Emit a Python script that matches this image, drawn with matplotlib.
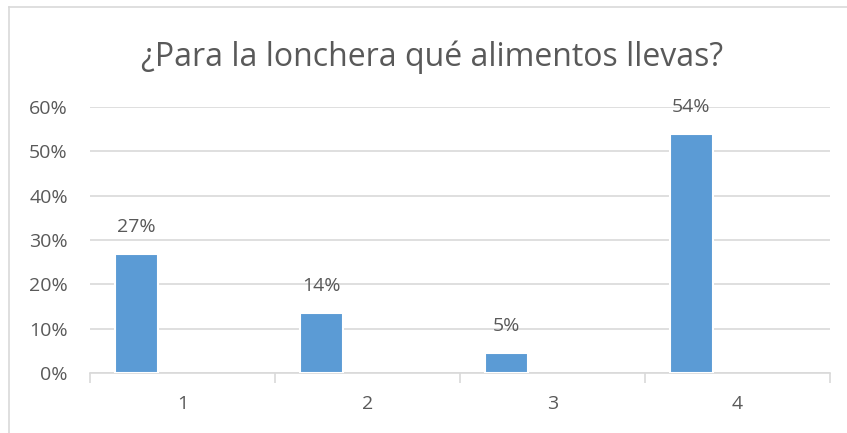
import matplotlib.pyplot as plt
from matplotlib.lines import Line2D

categories = ['1', '2', '3', '4']
values = [0.268, 0.135, 0.046, 0.539]
yticks = [0, 0.1, 0.2, 0.3, 0.4, 0.5, 0.6]
title = '¿Para la lonchera qué alimentos llevas?'

plt.rcParams['font.family'] = ['Open Sans', 'DejaVu Sans']
txt = '#595959'
grid = '#d9d9d9'

fig = plt.figure(figsize=(8.47, 4.33), dpi=100)
W, H = 847, 433
ax = fig.add_axes([90 / W, 1 - 373 / H, 740 / W, 266 / H])

xs = range(len(categories))
ax.bar([x - 0.25 for x in xs], values, width=0.23, color='#5b9bd5',
       edgecolor='white', linewidth=1.5, zorder=3)
for x, v in zip(xs, values):
    ax.text(x - 0.25, v + 0.04, '%d%%' % round(v * 100), ha='center', va='bottom',
            fontsize=14, color=txt, zorder=4)

ax.set_xlim(-0.5, 3.5)
ax.set_ylim(0, 0.6)
ax.set_yticks(yticks)
ax.set_yticklabels(['%d%%' % round(t * 100) for t in yticks])
ax.yaxis.grid(True, color=grid, linewidth=1.2, zorder=0)
ax.tick_params(axis='y', length=0, labelsize=14, labelcolor=txt, pad=16)

ax.set_xticks([x + 0.5 for x in range(-1, 4)], minor=False)
ax.set_xticklabels([])
ax.tick_params(axis='x', length=7, color=grid, width=1.2, direction='out')
ax.set_xticks(list(xs), minor=True)
ax.set_xticklabels(categories, minor=True)
ax.tick_params(axis='x', which='minor', length=0, labelsize=14, labelcolor=txt, pad=16)

for s in ['top', 'right', 'left']:
    ax.spines[s].set_visible(False)
ax.spines['bottom'].set_color(grid)
ax.spines['bottom'].set_linewidth(1.2)

fig.text(432 / W, 1 - 57 / H, title, ha='center', va='center', fontsize=23, color=txt)

fig.add_artist(Line2D([9 / W, 1], [1 - 7 / H, 1 - 7 / H], color=grid, linewidth=1.2))
fig.add_artist(Line2D([9 / W, 9 / W], [0, 1 - 7 / H], color=grid, linewidth=1.2))

fig.savefig('out.png', dpi=100, facecolor='white')
